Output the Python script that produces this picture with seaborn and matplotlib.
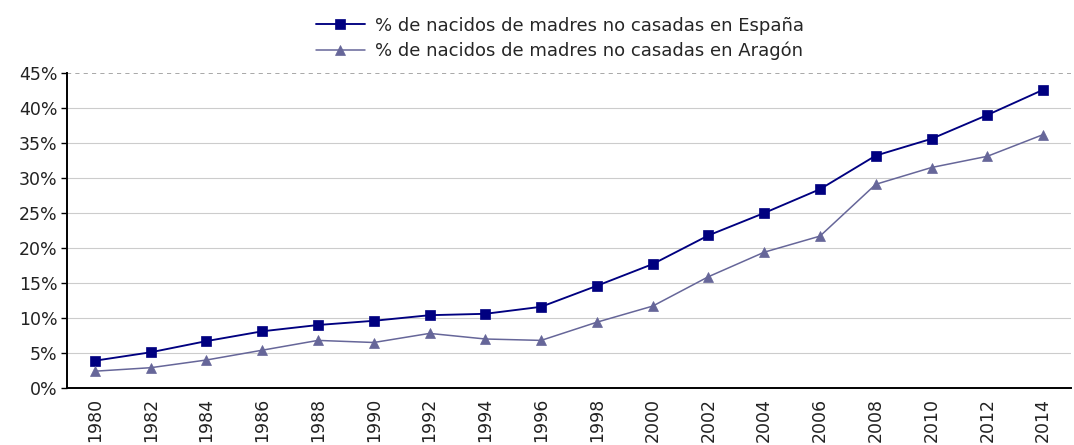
import matplotlib
matplotlib.use("Agg")
import matplotlib.pyplot as plt
import seaborn as sns
import numpy as np
import pandas as pd

years = ["1980", "1982", "1984", "1986", "1988", "1990", "1992", "1994", "1996",
         "1998", "2000", "2002", "2004", "2006", "2008", "2010", "2012", "2014"]
espana = [3.9, 5.1, 6.7, 8.1, 9.0, 9.6, 10.4, 10.6, 11.6,
          14.6, 17.7, 21.8, 25.0, 28.4, 33.2, 35.6, 39.0, 42.6]
aragon = [2.4, 2.9, 4.0, 5.4, 6.8, 6.5, 7.8, 7.0, 6.8,
          9.4, 11.7, 15.9, 19.4, 21.7, 29.1, 31.5, 33.1, 36.2]

lab_es = "% de nacidos de madres no casadas en España"
lab_ar = "% de nacidos de madres no casadas en Aragón"

sns.set_style("white")
plt.rcParams['font.family'] = ['DejaVu Sans']

fig = plt.figure(figsize=(10.74, 4.45), dpi=100)
ax = fig.add_axes([67/1074, 1 - 388/445, (1071 - 67)/1074, (388 - 73)/445])

x = np.arange(len(years))
df = pd.DataFrame({"x": x, "es": espana, "ar": aragon})

sns.lineplot(data=df, x="x", y="es", ax=ax, color="#000080", marker="s",
             markersize=6.8, markeredgewidth=0.5, markeredgecolor="#000080",
             linewidth=1.35, label=lab_es)
sns.lineplot(data=df, x="x", y="ar", ax=ax, color="#666699", marker="^",
             markersize=7.8, markeredgewidth=0.5, markeredgecolor="#666699",
             linewidth=1.1, label=lab_ar)

ax.set_xlim(-0.5, len(years) - 0.5)
ax.set_ylim(0, 45)
ax.set_yticks(np.arange(0, 46, 5))
ax.set_yticklabels([f"{v}%" for v in range(0, 46, 5)], fontsize=12.5, color="#222222")
ax.set_xticks(x)
ax.set_xticklabels(years, rotation=90, fontsize=12.5, color="#222222")
ax.set_xticks(np.arange(-0.5, len(years), 1), minor=True)
ax.tick_params(axis="x", which="major", length=0, pad=7)
ax.tick_params(axis="x", which="minor", length=5, width=1, color="black", direction="out")
ax.tick_params(axis="y", length=4, width=1, color="black", direction="out", left=True, pad=3)
ax.set_xlabel("")
ax.set_ylabel("")

for v in range(5, 45, 5):
    ax.axhline(v, color="#cccccc", linewidth=0.8, zorder=0)
ax.axhline(45, color="#999999", linewidth=1.2, linestyle=(0, (2.5, 2.5)), zorder=0)

for s in ["top", "right"]:
    ax.spines[s].set_visible(False)
ax.spines["left"].set_color("black")
ax.spines["bottom"].set_color("black")
ax.spines["left"].set_linewidth(1.4)
ax.spines["bottom"].set_linewidth(1.4)

ax.legend(loc="lower center", bbox_to_anchor=(0.491, 1.0), frameon=False, fontsize=13,
          handlelength=2.7, handletextpad=0.55, labelspacing=0.4, borderaxespad=0.3)

fig.savefig("out.png", dpi=100)
